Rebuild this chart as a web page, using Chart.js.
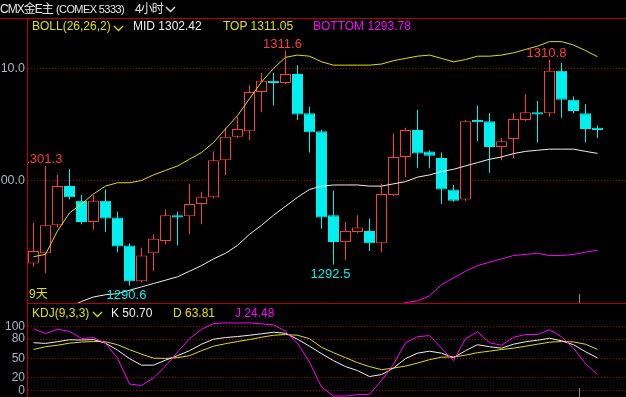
<!DOCTYPE html>
<html lang="zh-CN">
<head>
<meta charset="utf-8">
<title>CMX金E主 4小时</title>
<script src="https://cdn.jsdelivr.net/npm/chart.js@4.4.1/dist/chart.umd.min.js"></script>
<style>
  html, body { margin: 0; padding: 0; background: #000; }
  #wrap { position: relative; width: 626px; height: 397px; overflow: hidden; background: #000;
    font-family: "Liberation Sans", Arial, "Noto Sans CJK SC", sans-serif; font-size: 12px; }
  #wrap canvas { position: absolute; left: 0; }
  .t { position: absolute; white-space: nowrap; line-height: 14px; }
  .chev { position: absolute; }
</style>
</head>
<body>
<div id="wrap">
  <canvas id="mainChart" width="626" height="304" style="top:0;width:626px;height:304px"></canvas>
  <canvas id="kdjChart" width="626" height="93" style="top:304px;width:626px;height:93px"></canvas>

  <span class="t" style="left:0;top:2px;color:#e8e8e8;letter-spacing:-1px">CMX金E主</span>
  <span class="t" style="left:56px;top:2px;color:#e8e8e8;font-size:11px;letter-spacing:-0.6px">(COMEX 5333)</span>
  <span class="t" style="left:135px;top:2px;color:#e8e8e8;letter-spacing:-1px">4小时</span>
  <svg class="chev" style="left:165px;top:6px" width="11" height="7"><polyline points="1,1 5.5,5.5 10,1" fill="none" stroke="#e8e8e8" stroke-width="1.3"/></svg>

  <span class="t" style="left:32px;top:19px;color:#e0e000">BOLL(26,26,2)</span>
  <svg class="chev" style="left:113px;top:25px" width="11" height="7"><polyline points="1,1 5.5,5.5 10,1" fill="none" stroke="#e0e000" stroke-width="1.3"/></svg>
  <span class="t" style="left:133px;top:19px;color:#f0f0f0">MID <span id="midVal"></span></span>
  <span class="t" style="left:223px;top:19px;color:#e0e000">TOP <span id="topVal"></span></span>
  <span class="t" style="left:313px;top:19px;color:#ff00ff">BOTTOM <span id="botVal"></span></span>

  <span class="t" style="left:29px;top:287px;color:#e0e000">9天</span>

  <span class="t" style="left:32px;top:306px;color:#e0e000">KDJ(9,3,3)</span>
  <svg class="chev" style="left:92px;top:311px" width="11" height="7"><polyline points="1,1 5.5,5.5 10,1" fill="none" stroke="#e0e000" stroke-width="1.3"/></svg>
  <span class="t" style="left:111px;top:306px;color:#f0f0f0">K <span id="kVal"></span></span>
  <span class="t" style="left:173px;top:306px;color:#e0e000">D <span id="dVal"></span></span>
  <span class="t" style="left:235px;top:306px;color:#ff00ff">J <span id="jVal"></span></span>
</div>

<script>
// 4小时 K 线：开高低收
const openP = [1292.6, 1293.5, 1296.0, 1299.5, 1298.2, 1296.3, 1298.2, 1296.7, 1294.2, 1291.0, 1293.5, 1294.6,
  1296.9, 1296.8, 1297.9, 1298.5, 1301.8, 1303.9, 1304.4, 1307.9, 1308.9, 1308.7, 1309.5, 1306.0,
  1304.4, 1296.9, 1294.5, 1295.4, 1295.5, 1294.4, 1298.7, 1302.1, 1304.5, 1302.6, 1302.0, 1299.2,
  1298.3, 1305.4, 1305.3, 1303.0, 1303.7, 1305.4, 1306.1, 1306.0, 1309.8, 1307.2, 1306.0, 1304.7];
const highP = [1296.2, 1301.3, 1300.5, 1301.0, 1298.7, 1298.7, 1299.2, 1297.2, 1294.4, 1294.0, 1295.2, 1297.4,
  1297.2, 1299.7, 1299.0, 1302.6, 1304.7, 1305.7, 1308.5, 1309.6, 1309.6, 1311.6, 1310.3, 1306.6,
  1304.5, 1299.1, 1296.3, 1296.9, 1296.6, 1299.7, 1304.2, 1304.7, 1306.3, 1302.7, 1302.5, 1299.6,
  1305.4, 1306.7, 1306.0, 1303.8, 1306.0, 1307.7, 1307.1, 1310.8, 1310.5, 1307.5, 1306.8, 1304.9];
const lowP = [1292.3, 1291.7, 1295.8, 1298.3, 1296.1, 1295.6, 1295.4, 1293.6, 1290.6, 1290.9, 1291.9, 1294.3,
  1294.2, 1295.2, 1296.1, 1298.4, 1300.5, 1303.8, 1303.6, 1306.1, 1306.7, 1308.6, 1305.4, 1302.5,
  1295.7, 1292.5, 1292.9, 1295.3, 1293.7, 1293.6, 1298.6, 1300.3, 1301.1, 1301.1, 1297.9, 1298.1,
  1298.2, 1303.5, 1300.7, 1301.8, 1302.0, 1305.3, 1303.4, 1305.7, 1305.6, 1306.0, 1303.4, 1303.8];
const closeP = [1293.7, 1296.0, 1299.5, 1298.5, 1296.3, 1298.2, 1296.6, 1294.1, 1291.0, 1293.3, 1294.8, 1296.9,
  1296.7, 1297.9, 1298.5, 1301.8, 1303.9, 1304.6, 1307.9, 1308.9, 1308.7, 1309.5, 1305.9, 1304.3,
  1296.7, 1294.5, 1295.5, 1295.8, 1294.4, 1298.8, 1302.1, 1304.5, 1302.4, 1302.2, 1299.2, 1298.2,
  1305.3, 1305.2, 1303.0, 1303.5, 1305.5, 1306.1, 1305.9, 1309.8, 1307.2, 1306.2, 1304.6, 1304.5];

// BOLL(26,26,2)
const bollTop = [1293.2, 1293.4, 1295.5, 1297.1, 1297.9, 1298.8, 1299.5, 1299.8, 1299.8, 1300.0, 1300.5, 1300.9,
  1301.3, 1301.9, 1302.5, 1303.4, 1304.6, 1305.8, 1307.3, 1308.8, 1310.0, 1311.0, 1311.2, 1311.1,
  1310.6, 1310.3, 1310.3, 1310.3, 1310.3, 1310.4, 1310.7, 1310.9, 1311.1, 1311.2, 1310.9, 1310.6,
  1310.8, 1311.1, 1311.1, 1311.2, 1311.4, 1311.7, 1312.0, 1312.4, 1312.4, 1312.1, 1311.6, 1311.05];
const bollMid = [null, null, null, 1288.7, 1289.2, 1289.6, 1289.8, 1289.9, 1290.2, 1290.5, 1290.8, 1291.1,
  1291.4, 1291.9, 1292.4, 1293.0, 1293.5, 1294.2, 1295.2, 1296.0, 1296.9, 1297.7, 1298.5, 1299.2,
  1299.5, 1299.6, 1299.6, 1299.6, 1299.5, 1299.5, 1299.7, 1299.9, 1300.3, 1300.5, 1300.8, 1301.0,
  1301.3, 1301.6, 1301.9, 1302.1, 1302.4, 1302.6, 1302.7, 1302.8, 1302.8, 1302.8, 1302.6, 1302.42];
const bollBottom = [null, null, null, null, null, null, null, null, null, null, null, null,
  null, null, null, null, null, null, null, null, null, null, null, null,
  null, null, null, null, null, null, 1288.7, 1289.1, 1289.25, 1289.7, 1290.7, 1291.3,
  1291.9, 1292.4, 1292.7, 1293.0, 1293.3, 1293.4, 1293.5, 1293.3, 1293.3, 1293.4, 1293.6, 1293.78];

// KDJ(9,3,3)
const kLine = [74.3, 73.3, 75.9, 79.0, 78.5, 79.3, 73.6, 62.7, 49.5, 39.3, 39.3, 47.1,
  54.1, 61.9, 72.0, 79.8, 82.4, 84.0, 86.0, 88.3, 90.7, 89.1, 79.8, 68.9,
  57.2, 46.3, 37.0, 30.8, 21.5, 24.6, 34.7, 49.5, 58.0, 61.1, 58.0, 51.0,
  61.9, 71.2, 68.1, 65.8, 72.0, 75.9, 78.2, 81.3, 77.4, 71.2, 60.3, 50.70];
const dLine = [63.8, 68.1, 70.4, 73.6, 75.4, 76.2, 75.9, 71.2, 63.5, 56.5, 50.2, 49.8,
  51.0, 54.1, 61.9, 68.9, 72.8, 76.2, 79.3, 82.9, 86.0, 87.1, 86.0, 80.6,
  67.3, 58.8, 51.0, 43.2, 37.0, 32.3, 34.7, 37.8, 42.5, 47.9, 51.8, 52.1,
  54.9, 58.8, 61.1, 63.8, 65.8, 68.9, 72.0, 75.1, 76.2, 75.6, 72.0, 63.81];
const jLine = [96.1, 88.6, 95.3, 92.2, 80.9, 82.4, 73.6, 50.2, 9.8, 7.5, 19.1, 37.8,
  59.6, 80.6, 95.3, 104.2, 105.4, 105.0, 105.4, 103.9, 102.3, 92.2, 73.6, 44.0,
  5.1, -8.9, -8.9, -6.8, -6.2, 15.2, 40.9, 74.3, 83.7, 85.5, 65.8, 46.3,
  80.6, 91.4, 74.3, 70.4, 82.9, 87.1, 87.1, 94.6, 83.7, 65.8, 41.7, 24.48];

const priceTicks = [1300, 1310];
const kdjTicks = [0, 20, 50, 80, 100];
const markHighIdx = [1, 21, 43];   // 标注最高价的K线
const markLowIdx = [8, 25];        // 标注最低价的K线
const sessionBreakIdx = [46];      // 新交易日第一根K线

const UP = '#ff3c3c';
const DOWN = '#00f0f0';
const YEL = '#e0e000';
const WHITE = '#f0f0f0';
const MAG = '#ff00ff';
const FRAME = '#b80000';
const GRID = '#a00000';
const AXIS_TXT = '#aab4c2';
const FONT = "'Liberation Sans', sans-serif";

// 第一根K线中心距绘图区左边 5.5px，每根 12px
const X_MIN = -5.5 / 12;
const X_MAX = X_MIN + 598 / 12;
const PRICE_MIN = 1289.0625;
const PRICE_MAX = 1314.42;
const KDJ_MIN = -10.47;
const KDJ_MAX = 134.84;

document.getElementById('midVal').textContent = bollMid[bollMid.length - 1].toFixed(2);
document.getElementById('topVal').textContent = bollTop[bollTop.length - 1].toFixed(2);
document.getElementById('botVal').textContent = bollBottom[bollBottom.length - 1].toFixed(2);
document.getElementById('kVal').textContent = kLine[kLine.length - 1].toFixed(2);
document.getElementById('dVal').textContent = dLine[dLine.length - 1].toFixed(2);
document.getElementById('jVal').textContent = jLine[jLine.length - 1].toFixed(2);

const isUp = (i) => closeP[i] >= openP[i];
const candleColor = (c) => (isUp(c.dataIndex) ? UP : DOWN);
const xy = (arr) => arr.map((v, i) => ({ x: i, y: v }));

function xScale() {
    return { type: 'linear', display: false, min: X_MIN, max: X_MAX, offset: false, grid: { display: false } };
}

function yScale(min, max, ticks, fmt, fontSize) {
    return {
        type: 'linear',
        min, max,
        beginAtZero: false,
        afterBuildTicks: (ax) => { ax.ticks = ticks.map((v) => ({ value: v })); },
        afterFit: (ax) => { ax.width = 28; ax.paddingTop = 0; ax.paddingBottom = 0; },
        grid: { color: GRID, lineWidth: 1, drawTicks: false },
        border: { display: false, dash: [1, 2] },
        ticks: { color: AXIS_TXT, padding: 3, font: { family: FONT, size: fontSize }, callback: fmt },
    };
}

function lineSet(label, arr, color, order) {
    return {
        type: 'line', label, data: xy(arr), borderColor: color, borderWidth: 1,
        pointRadius: 0, tension: 0, fill: false, order,
    };
}

// 红框线 + 日分隔刻度
function framePlugin(isMain) {
    return {
        id: 'frame',
        afterDraw(chart) {
            const { ctx, chartArea: a, width, height } = chart;
            ctx.save();
            ctx.lineWidth = 1;
            ctx.strokeStyle = FRAME;
            ctx.beginPath();
            ctx.moveTo(a.left - 0.5, isMain ? a.top - 1 : 0);
            ctx.lineTo(a.left - 0.5, height);
            if (isMain) {
                ctx.moveTo(0, a.top - 0.5);
                ctx.lineTo(width, a.top - 0.5);
                ctx.moveTo(a.left - 1, a.bottom + 0.5);
                ctx.lineTo(width, a.bottom + 0.5);
            }
            ctx.stroke();
            ctx.strokeStyle = '#8c8c8c';
            ctx.beginPath();
            sessionBreakIdx.forEach((i) => {
                const px = Math.round(chart.scales.x.getPixelForValue(i - 0.5) - 0.5) + 0.5;
                ctx.moveTo(px, a.bottom - 9);
                ctx.lineTo(px, a.bottom);
            });
            ctx.stroke();
            ctx.restore();
        },
    };
}

// 高低点价格标注
const markPlugin = {
    id: 'marks',
    afterDatasetsDraw(chart) {
        const { ctx, chartArea: a, scales: { x, y } } = chart;
        ctx.save();
        ctx.beginPath();
        ctx.rect(a.left, a.top, a.right - a.left, a.bottom - a.top);
        ctx.clip();
        ctx.font = '13px ' + FONT;
        ctx.textAlign = 'center';
        ctx.textBaseline = 'alphabetic';
        ctx.fillStyle = UP;
        markHighIdx.forEach((i) => {
            ctx.fillText(highP[i].toFixed(1), x.getPixelForValue(i) - 3, y.getPixelForValue(highP[i]) - 3);
        });
        ctx.fillStyle = DOWN;
        markLowIdx.forEach((i) => {
            ctx.fillText(lowP[i].toFixed(1), x.getPixelForValue(i) - 3, y.getPixelForValue(lowP[i]) + 13.5);
        });
        ctx.restore();
    },
};

new Chart(document.getElementById('mainChart'), {
    type: 'bar',
    data: {
        datasets: [
            lineSet('TOP', bollTop, YEL, 1),
            lineSet('MID', bollMid, WHITE, 1),
            lineSet('BOTTOM', bollBottom, MAG, 1),
            {
                type: 'bar', label: 'body',
                data: openP.map((o, i) => ({ x: i, y: [o, closeP[i]] })),
                backgroundColor: (c) => (isUp(c.dataIndex) ? '#000000' : DOWN),
                borderColor: candleColor,
                borderWidth: 1, borderSkipped: false, borderRadius: 0, inflateAmount: 0,
                barThickness: 11, maxBarThickness: 11, grouped: false, minBarLength: 1, order: 2,
            },
            {
                type: 'bar', label: 'wick',
                data: lowP.map((l, i) => ({ x: i, y: [l, highP[i]] })),
                backgroundColor: candleColor,
                borderWidth: 0, borderSkipped: false, inflateAmount: 0,
                barThickness: 1, maxBarThickness: 1, grouped: false, order: 3,
            },
        ],
    },
    options: {
        responsive: false,
        animation: false,
        events: [],
        layout: { padding: { top: 19, bottom: 1, left: 0, right: 0 } },
        plugins: { legend: { display: false }, tooltip: { enabled: false } },
        scales: {
            x: xScale(),
            y: yScale(PRICE_MIN, PRICE_MAX, priceTicks, (v) => Number(v).toFixed(1), 12.5),
        },
    },
    plugins: [framePlugin(true), markPlugin],
});

new Chart(document.getElementById('kdjChart'), {
    type: 'line',
    data: {
        datasets: [
            lineSet('J', jLine, MAG, 1),
            lineSet('K', kLine, WHITE, 2),
            lineSet('D', dLine, YEL, 3),
        ],
    },
    options: {
        responsive: false,
        animation: false,
        events: [],
        layout: { padding: 0 },
        plugins: { legend: { display: false }, tooltip: { enabled: false } },
        scales: {
            x: xScale(),
            y: yScale(KDJ_MIN, KDJ_MAX, kdjTicks, (v) => String(v), 12),
        },
    },
    plugins: [framePlugin(false)],
});
</script>
</body>
</html>
